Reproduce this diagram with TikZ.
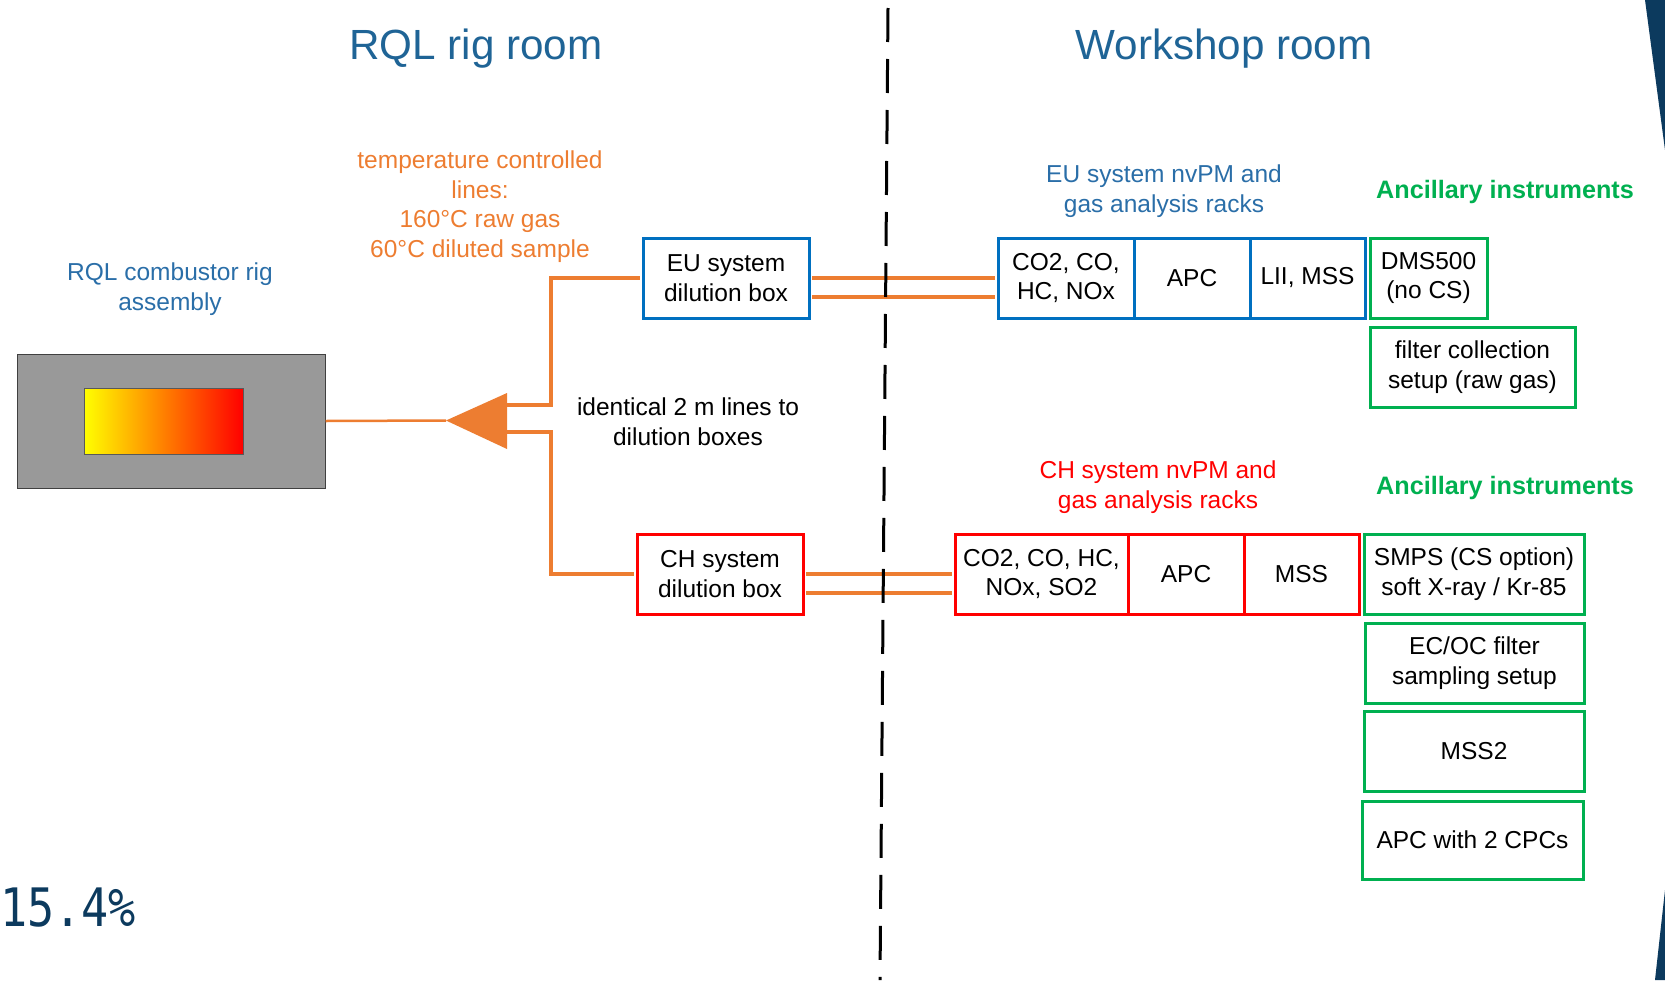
\documentclass[tikz,border=0pt]{standalone}
\usepackage{fontspec}
\setmainfont{Liberation Sans}
\newfontfamily\pctfont{DejaVu Sans Mono}
\definecolor{titleblue}{RGB}{31,100,150}
\definecolor{labelblue}{RGB}{42,110,168}
\definecolor{eublue}{RGB}{0,112,192}
\definecolor{chred}{RGB}{255,0,0}
\definecolor{ancgreen}{RGB}{0,176,80}
\definecolor{pipeorange}{RGB}{237,125,49}
\definecolor{slidenavy}{RGB}{12,58,94}
\newcommand{\txtsize}{\fontsize{24.5}{29.5}\selectfont}
\newcommand{\anctsize}{\fontsize{25.2}{29.5}\selectfont}
\newcommand{\ttlsize}{\fontsize{42.2}{50}\selectfont}

\begin{document}
\begin{tikzpicture}[x=1pt,y=-1pt,
  box/.style={draw,line width=3pt,fill=white,align=center,inner sep=0pt,minimum height=80pt,font=\txtsize},
  eu box/.style={box,draw=eublue},
  ch box/.style={box,draw=chred},
  anc box/.style={box,draw=ancgreen},
  pipe/.style={draw=pipeorange,line width=3.5pt},
  note/.style={align=center,inner sep=0pt,font=\txtsize}]

  \useasboundingbox (0,0) rectangle (1665,980);
  \fill[slidenavy] (1645,0) -- (1665,0) -- (1665,150) -- cycle;
  \fill[slidenavy] (1665,890) -- (1665,980) -- (1655,980) -- cycle;

  \node[font=\ttlsize,text=titleblue,anchor=base,inner sep=0pt] (rigroom) at (476,59) {RQL rig room};
  \node[font=\ttlsize,text=titleblue,anchor=base,inner sep=0pt] (shoproom) at (1224,59) {Workshop room};

  \node[note,text=pipeorange,anchor=north] (templines) at (480,151)
    {temperature controlled\\lines:\\160°C raw gas\\60°C diluted sample};
  \node[note,text=labelblue,anchor=north] (riglabel) at (170,263) {RQL combustor rig\\assembly};
  \node[note,anchor=north] (identical) at (688,398) {identical 2 m lines to\\dilution boxes};
  \node[note,text=labelblue,anchor=north] (eulabel) at (1164,165) {EU system nvPM and\\gas analysis racks};
  \node[note,text=chred,anchor=north] (chlabel) at (1158,461) {CH system nvPM and\\gas analysis racks};
  \node[note,text=ancgreen,font=\anctsize\bfseries,anchor=base] (anctop) at (1505,198) {Ancillary instruments};
  \node[note,text=ancgreen,font=\anctsize\bfseries,anchor=base] (ancbot) at (1505,494) {Ancillary instruments};

  \node[draw=black!75,fill=black!40,line width=1pt,minimum width=308pt,minimum height=134pt] (rig) at (171,421) {};
  \node[draw=black!65,line width=1pt,left color=yellow,middle color={rgb,255:red,255;green,160;blue,0},right color=red,
    minimum width=159pt,minimum height=66pt] (flame) at (163.5,421) {};

  \coordinate (tip) at (446,420.5);
  \coordinate (upout) at (506,405);
  \coordinate (lowout) at (506,432);
  \fill[pipeorange] (tip) -- (507,393) -- (507,449) -- cycle;

  \node[eu box,minimum width=166pt] (eudil) at (726,278) {EU system\\dilution box};
  \node[ch box,minimum width=166pt] (chdil) at (720,574) {CH system\\dilution box};

  \node[eu box,minimum width=136pt] (eugas) at (1066,278) {CO2, CO,\\HC, NOx};
  \node[eu box,minimum width=116pt] (euapc) at (1192,278) {APC};
  \node[eu box,minimum width=115pt] (eulii) at (1307.5,278) {LII, MSS};

  \node[ch box,minimum width=173pt] (chgas) at (1041.5,574) {CO2, CO, HC,\\NOx, SO2};
  \node[ch box,minimum width=116pt] (chapc) at (1186,574) {APC};
  \node[ch box,minimum width=115pt] (chmss) at (1301.5,574) {MSS};

  \node[anc box,minimum width=117pt] (dms) at (1428.5,278) {DMS500\\(no CS)};
  \node[anc box,minimum width=205pt] (filter) at (1472.5,367) {filter collection\\setup (raw gas)};
  \node[anc box,minimum width=220pt] (smps) at (1474,574) {SMPS (CS option)\\soft X-ray / Kr-85};
  \node[anc box,minimum width=219pt] (ecoc) at (1474.5,663) {EC/OC filter\\sampling setup};
  \node[anc box,minimum width=220pt] (mss2) at (1474,751) {MSS2};
  \node[anc box,minimum width=221pt,minimum height=78pt] (apc2) at (1472.5,840) {APC with 2 CPCs};

  \node[font=\pctfont\fontsize{53}{60}\selectfont,text=slidenavy,anchor=base west,inner sep=0pt] (pct) at (0,926)
    {\scalebox{0.85}[1]{15.4\%}};

  \draw[pipe,line width=2.5pt] (rig.east) -- (tip);
  \draw[pipe,shorten >=1.5pt] (upout) -- ++(45,0) |- (eudil.west);
  \draw[pipe,shorten >=1.5pt] (lowout) -- ++(45,0) |- (chdil.west);
  \draw[pipe,shorten >=1.5pt,shorten <=1.5pt] (eudil.east) -- (eugas.west);
  \draw[pipe,shorten >=1.5pt,shorten <=1.5pt] ([yshift=-19pt]eudil.east) -- ([yshift=-19pt]eugas.west);
  \draw[pipe,shorten >=1.5pt,shorten <=1.5pt] (chdil.east) -- (chgas.west);
  \draw[pipe,shorten >=1.5pt,shorten <=1.5pt] ([yshift=-19pt]chdil.east) -- ([yshift=-19pt]chgas.west);

  \coordinate (divtop) at (888,8);
  \coordinate (divbot) at (880,980);
  \draw[line width=3pt,dash pattern=on 34pt off 17pt] (divtop) -- (divbot);
\end{tikzpicture}
\end{document}
